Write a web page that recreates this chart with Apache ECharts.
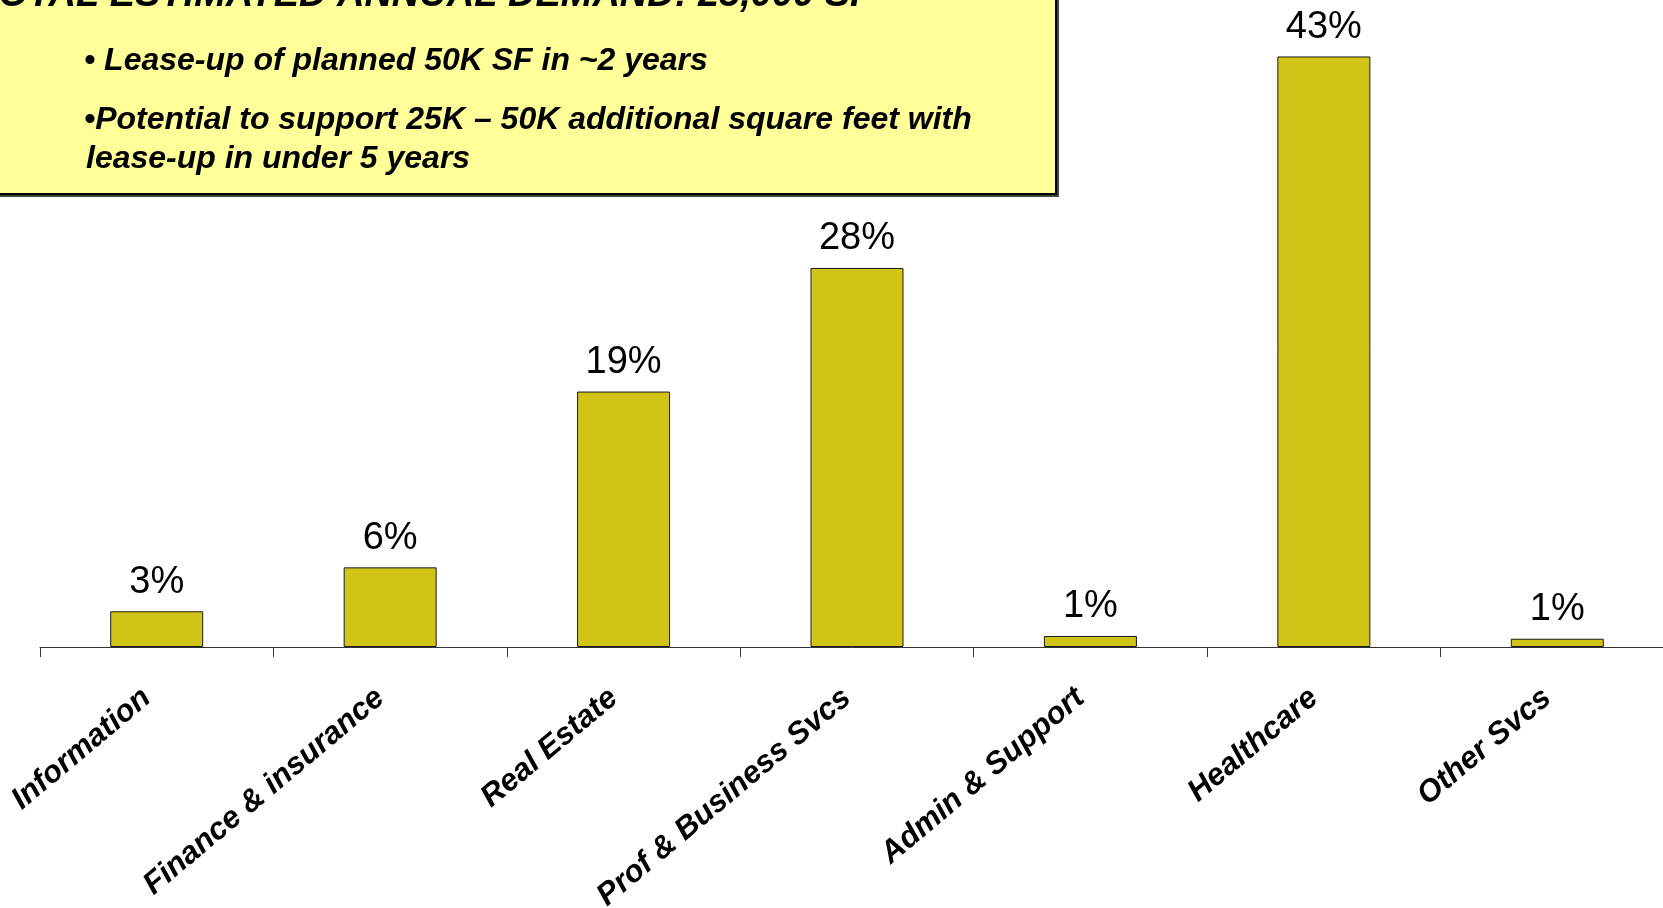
<!DOCTYPE html>
<html>
<head>
<meta charset="utf-8">
<script src="https://cdn.jsdelivr.net/npm/echarts@6/dist/echarts.min.js"></script>
<style>
  html, body { margin: 0; padding: 0; background: #ffffff; }
  #chart { width: 1663px; height: 908px; }
</style>
</head>
<body>
<div id="chart"></div>
<script>
// Share of estimated office demand by industry (percent)
const categories = [
  'Information',
  'Finance & insurance',
  'Real Estate',
  'Prof & Business Svcs',
  'Admin & Support',
  'Healthcare',
  'Other Svcs'
];
const sharePct = [2.6, 5.8, 18.6, 27.6, 0.8, 43.0, 0.6];

// Call-out box text
const headline = 'TOTAL ESTIMATED ANNUAL DEMAND: 25,000 SF';
const bulletLines = [
  '\u2022 Lease-up of planned 50K SF in ~2 years',
  '\u2022Potential to support 25K \u2013 50K additional square feet with',
  'lease-up in under 5 years'
];

const FONT = '"Liberation Sans", Arial, sans-serif';

const chart = echarts.init(document.getElementById('chart'), null, { renderer: 'canvas' });

const calloutText = (text, x, y, size) => ({
  type: 'text',
  x: x,
  y: y,
  z: 12,
  style: {
    text: text,
    fill: '#000000',
    font: 'italic bold ' + size + 'px ' + FONT,
    verticalAlign: 'middle',
    align: 'left'
  }
});

chart.setOption({
  animation: false,
  backgroundColor: '#ffffff',
  grid: {
    left: 40, right: -11, top: 29, bottom: 261,
    containLabel: false,
    outerBoundsMode: 'none'
  },
  xAxis: {
    type: 'category',
    data: categories,
    axisLine: { lineStyle: { color: '#333333', width: 1 } },
    axisTick: { show: true, length: 10, lineStyle: { color: '#333333', width: 1 } },
    axisLabel: {
      interval: 0,
      rotate: 40,
      margin: 59,
      verticalAlign: 'bottom',
      color: '#000000',
      fontFamily: FONT,
      fontSize: 31,
      fontWeight: 'bold',
      fontStyle: 'italic'
    }
  },
  yAxis: { type: 'value', min: 0, max: 45, show: false, splitLine: { show: false } },
  series: [{
    type: 'bar',
    data: sharePct,
    barWidth: 93,
    itemStyle: { color: '#D1C417', borderColor: '#1a1a1a', borderWidth: 1 },
    label: {
      show: true,
      position: 'top',
      distance: 10,
      color: '#000000',
      fontFamily: FONT,
      fontSize: 38,
      formatter: p => Math.round(p.value) + '%'
    }
  }],
  graphic: [
    // drop shadow of the call-out box
    {
      type: 'rect', z: 10,
      shape: { x: -10, y: -10, width: 1069, height: 207 },
      style: { fill: '#444444' }
    },
    {
      type: 'rect', z: 11,
      shape: { x: -10, y: -10, width: 1066, height: 204 },
      style: { fill: '#FFFF99', stroke: '#000000', lineWidth: 2 }
    },
    calloutText(headline, -24, -4, 38),
    calloutText(bulletLines[0], 84, 61, 32),
    calloutText(bulletLines[1], 84, 120, 32),
    calloutText(bulletLines[2], 86, 159, 32)
  ]
});
</script>
</body>
</html>
